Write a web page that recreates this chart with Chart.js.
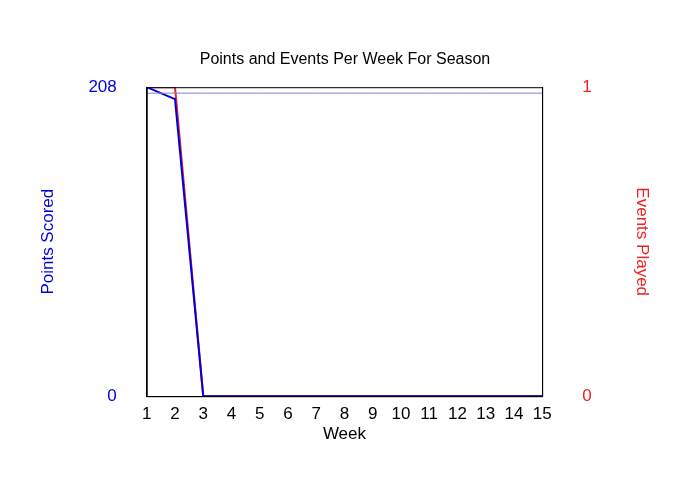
<!DOCTYPE html>
<html>
<head>
<script src="https://cdn.jsdelivr.net/npm/chart.js@4"></script>
<style>body{margin:0;background:#fff}</style>
</head>
<body>
<canvas id="myChart" width="700" height="500"></canvas>
<script>
var weeks = [1, 2, 3, 4, 5, 6, 7, 8, 9, 10, 11, 12, 13, 14, 15];
var points = [208, 200, 0, 0, 0, 0, 0, 0, 0, 0, 0, 0, 0, 0, 0];
var events = [1, 1, 0, 0, 0, 0, 0, 0, 0, 0, 0, 0, 0, 0, 0];
var refLine = 204;

var font = { family: "Arial, 'Liberation Sans', sans-serif", size: 17 };

var boxPlugin = {
    id: 'box',
    afterDraw: function (chart) {
        var a = chart.chartArea, c = chart.ctx;
        c.save();
        c.strokeStyle = '#000';
        c.lineWidth = 1;
        c.strokeRect(a.left + 0.5, a.top + 0.5, a.right - a.left, a.bottom - a.top);
        c.restore();
    }
};

new Chart(document.getElementById('myChart'), {
    type: 'line',
    data: {
        labels: weeks,
        datasets: [{
            data: weeks.map(function () { return refLine; }),
            borderColor: '#8080e0', borderWidth: 1, pointRadius: 0, yAxisID: 'y'
        }, {
            label: 'Points Scored',
            data: points,
            borderColor: '#0000dd', borderWidth: 2, pointRadius: 0, tension: 0, yAxisID: 'y'
        }, {
            label: 'Events Played',
            data: events,
            borderColor: '#ee2222', borderWidth: 2, pointRadius: 0, tension: 0, yAxisID: 'y1'
        }]
    },
    options: {
        responsive: false,
        animation: false,
        devicePixelRatio: 1,
        layout: { padding: { left: 30, right: 40, top: 50, bottom: 55 } },
        plugins: {
            legend: { display: false },
            tooltip: { enabled: false },
            title: {
                display: true, text: 'Points and Events Per Week For Season',
                color: '#000', font: { family: font.family, size: 16, weight: 'normal' },
                padding: { bottom: 18 }
            }
        },
        scales: {
            x: {
                offset: false,
                grid: { display: false },
                border: { color: '#000' },
                ticks: { color: '#000', font: font, padding: 0, maxRotation: 0, autoSkip: false },
                title: { display: true, text: 'Week', color: '#000', font: font, padding: 0 }
            },
            y: {
                position: 'left', min: 0, max: 208,
                grid: { display: false },
                border: { color: '#000' },
                afterBuildTicks: function (s) { s.ticks = [{ value: 0 }, { value: 208 }]; },
                ticks: { color: '#0000dd', font: font, padding: 22 },
                title: { display: true, text: 'Points Scored', color: '#0000dd', font: font, padding: 8 }
            },
            y1: {
                position: 'right', min: 0, max: 1,
                grid: { display: false },
                border: { color: '#000' },
                afterBuildTicks: function (s) { s.ticks = [{ value: 0 }, { value: 1 }]; },
                ticks: { color: '#ee2222', font: font, padding: 32 },
                title: { display: true, text: 'Events Played', color: '#ee2222', font: font, padding: 8 }
            }
        }
    },
    plugins: [boxPlugin]
});
</script>
</body>
</html>
